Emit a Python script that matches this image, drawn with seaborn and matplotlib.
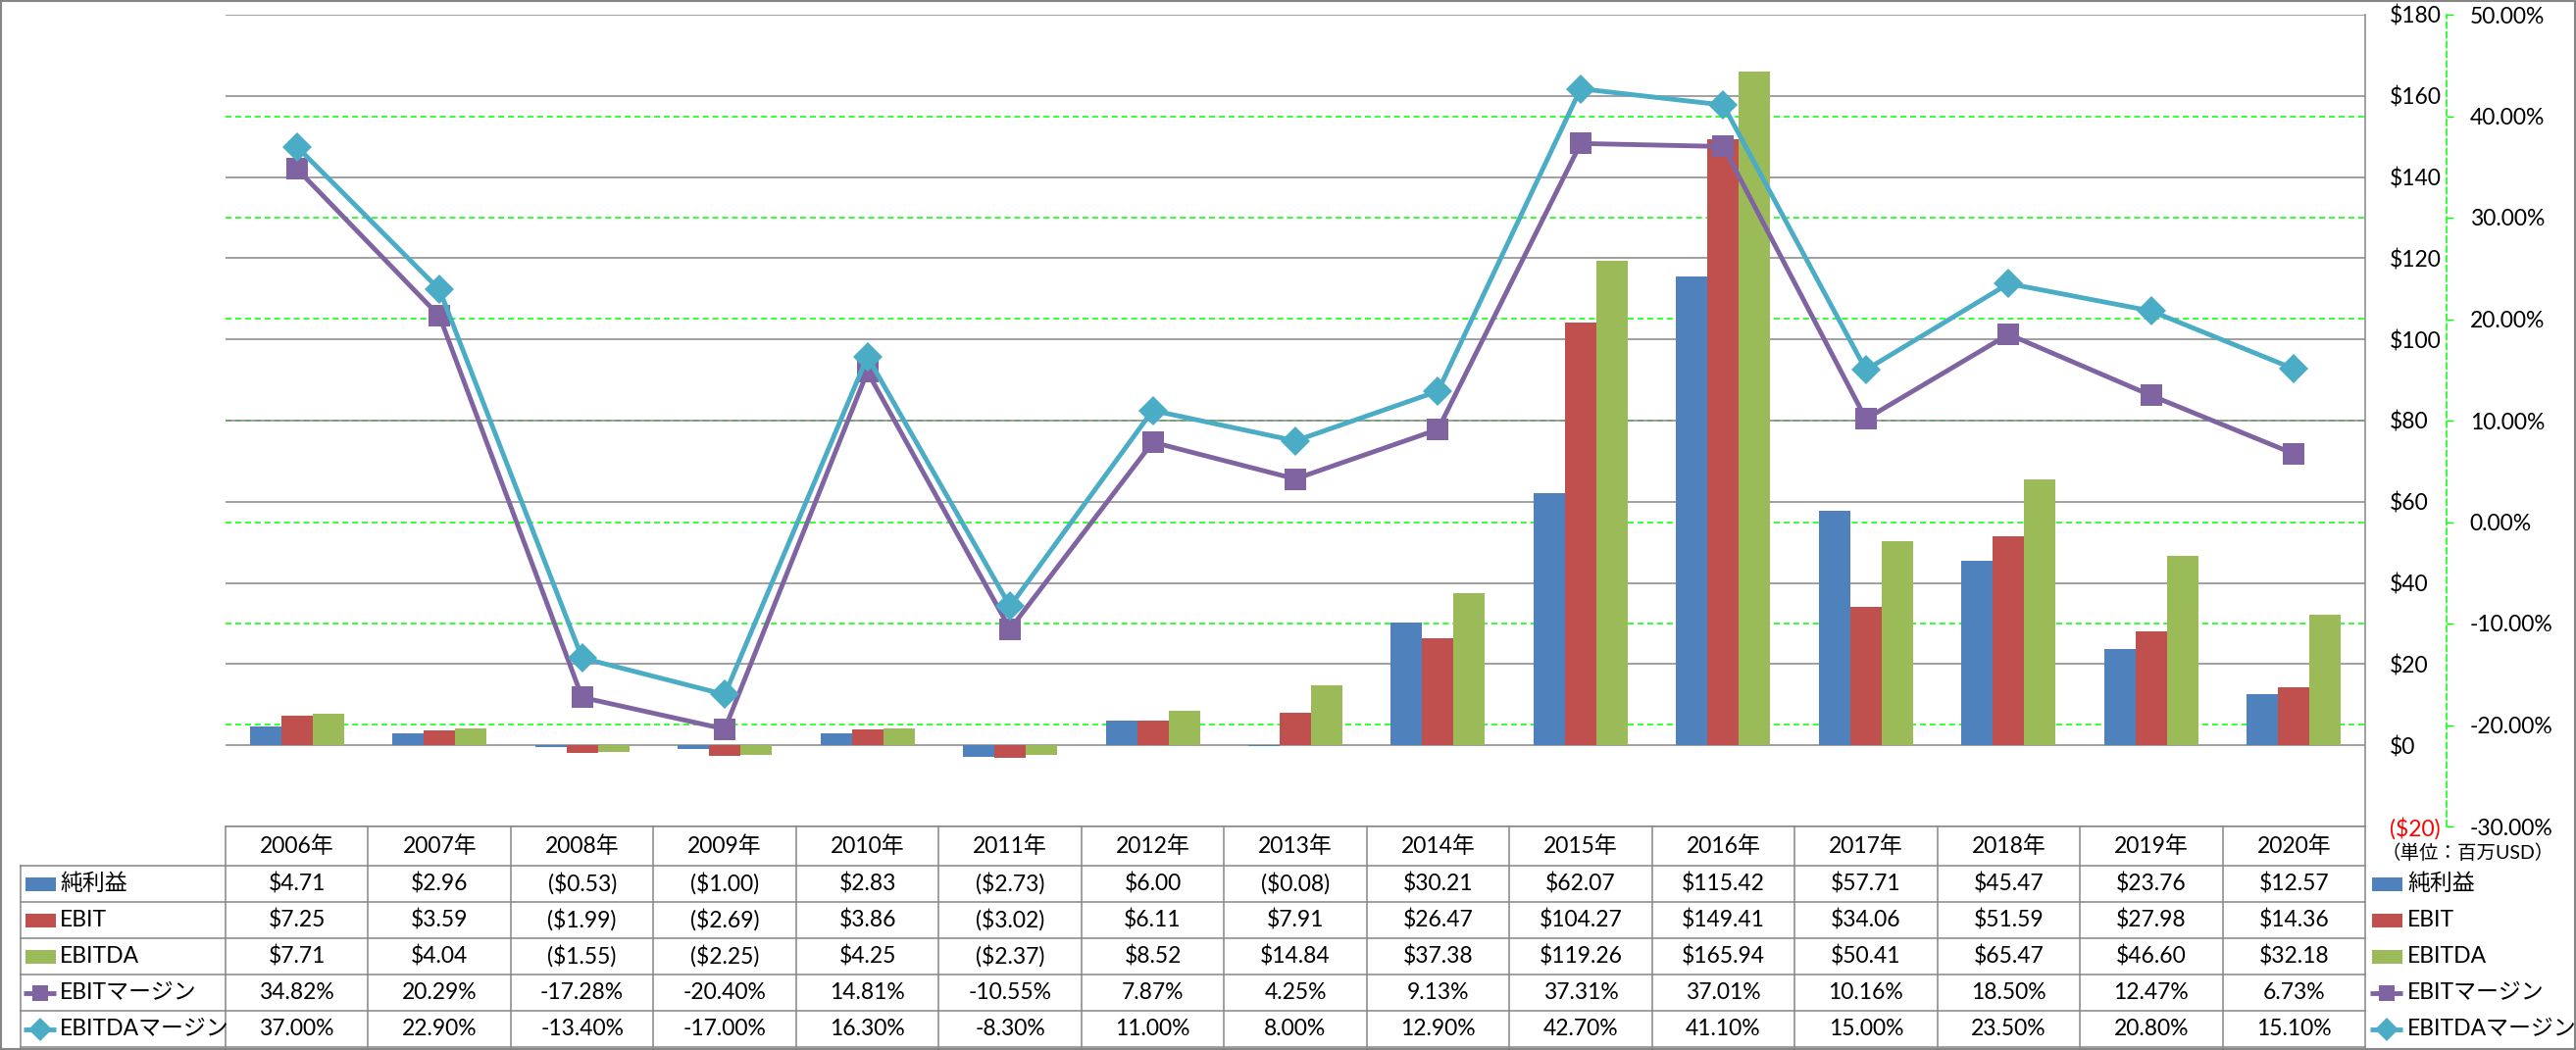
import numpy as np
import pandas as pd
import matplotlib
matplotlib.use("Agg")
import matplotlib.pyplot as plt
from matplotlib.patches import Rectangle
import seaborn as sns

plt.rcParams['font.family'] = ['Lato', 'Noto Sans CJK JP', 'DejaVu Sans']

years = ["2006年", "2007年", "2008年", "2009年", "2010年", "2011年", "2012年", "2013年",
         "2014年", "2015年", "2016年", "2017年", "2018年", "2019年", "2020年"]
net_income = [4.71, 2.96, -0.53, -1.00, 2.83, -2.73, 6.00, -0.08, 30.21, 62.07, 115.42, 57.71, 45.47, 23.76, 12.57]
ebit = [7.25, 3.59, -1.99, -2.69, 3.86, -3.02, 6.11, 7.91, 26.47, 104.27, 149.41, 34.06, 51.59, 27.98, 14.36]
ebitda = [7.71, 4.04, -1.55, -2.25, 4.25, -2.37, 8.52, 14.84, 37.38, 119.26, 165.94, 50.41, 65.47, 46.60, 32.18]
ebit_margin = [34.82, 20.29, -17.28, -20.40, 14.81, -10.55, 7.87, 4.25, 9.13, 37.31, 37.01, 10.16, 18.50, 12.47, 6.73]
ebitda_margin = [37.00, 22.90, -13.40, -17.00, 16.30, -8.30, 11.00, 8.00, 12.90, 42.70, 41.10, 15.00, 23.50, 20.80, 15.10]

bar_names = ["純利益", "EBIT", "EBITDA"]
line_names = ["EBITマージン", "EBITDAマージン"]
bar_colors = ["#4F81BD", "#C0504D", "#9BBB59"]
line_colors = ["#8064A2", "#4BACC6"]
line_markers = ["s", "D"]
usd_ticks = list(range(-20, 181, 20))
pct_ticks = list(range(-30, 51, 10))
unit_note = "（単位：百万USD）"

GRAY = "#868686"
GREEN = "#00FF00"
FS = 16.5
W, H = 2627, 1071

fig = plt.figure(figsize=(W / 100, H / 100), dpi=100)
ax = fig.add_axes([230 / W, 1 - 843 / H, (2412 - 230) / W, (843 - 15) / H])

df = pd.DataFrame({
    "year": years * 3,
    "value": net_income + ebit + ebitda,
    "series": [bar_names[0]] * 15 + [bar_names[1]] * 15 + [bar_names[2]] * 15,
})
sns.barplot(data=df, x="year", y="value", hue="series", hue_order=bar_names,
            palette=bar_colors, saturation=1, width=0.66, linewidth=0,
            legend=False, ax=ax)

ax.set_xlim(-0.5, len(years) - 0.5)
ax.set_ylim(usd_ticks[0], usd_ticks[-1])
ax.set_xticks([])
ax.set_xlabel("")
ax.set_ylabel("")
ax.set_axisbelow(True)
ax.grid(axis="y", color=GRAY, lw=1.1)
for s in ["left", "top", "bottom"]:
    ax.spines[s].set_visible(False)
ax.spines["right"].set_color(GRAY)
ax.spines["right"].set_linewidth(1.1)

# secondary-axis gridlines sit behind the bars, so draw them on the primary axes
u0, u1 = usd_ticks[0], usd_ticks[-1]
p0, p1 = pct_ticks[0], pct_ticks[-1]
for p in pct_ticks[1:-1]:
    ax.axhline(u0 + (p - p0) / (p1 - p0) * (u1 - u0), color=GREEN, lw=1.1,
               ls=(0, (4, 2.5)), zorder=0.5)

ax2 = ax.twinx()
xpos = np.arange(len(years))
for vals, name, col, mk in zip([ebit_margin, ebitda_margin], line_names, line_colors, line_markers):
    sns.lineplot(x=xpos, y=vals, ax=ax2, color=col, lw=3.5, marker=mk,
                 markersize=16 if mk == "s" else 15, markeredgewidth=0, sort=False)

# primary ($) ticks go on the right, next to the plot edge
ax.yaxis.tick_right()
ax.set_yticks(usd_ticks)
ax.set_yticklabels([f"(${-v})" if v < 0 else f"${v}" for v in usd_ticks])
for lab, v in zip(ax.get_yticklabels(), usd_ticks):
    lab.set_color("red" if v < 0 else "black")
ax.tick_params(axis="y", length=0, pad=18, labelsize=FS, left=False, labelleft=False,
               right=True, labelright=True)

ax2.set_xlim(-0.5, len(years) - 0.5)
ax2.set_ylim(p0, p1)
ax2.set_yticks(pct_ticks)
ax2.set_yticklabels([f"{v:.2f}%" for v in pct_ticks])
for lab, v in zip(ax2.get_yticklabels(), pct_ticks):
    lab.set_color("red" if v < 0 else "black")
ax2.tick_params(axis="y", length=5, width=1, color=GREEN, pad=12, labelsize=FS)
ax2.set_ylabel("")
for s in ["left", "top", "bottom"]:
    ax2.spines[s].set_visible(False)
ax2.spines["right"].set_position(("outward", 83 * 0.72))
ax2.spines["right"].set_color(GREEN)
ax2.spines["right"].set_linestyle((0, (4, 2.5)))
ax2.spines["right"].set_linewidth(1.1)

# data table underneath, in pixel coordinates
ov = fig.add_axes([0, 0, 1, 1])
ov.set_xlim(0, W)
ov.set_ylim(H, 0)
ov.axis("off")

cx = [ax.transData.transform((i, 0))[0] for i in range(len(years))]
half = (cx[1] - cx[0]) / 2
edges_x = [c - half for c in cx] + [cx[-1] + half]
rows_y = [843, 883, 920, 957, 994, 1031, 1068]
lab_left = 21

ov.plot([edges_x[0], edges_x[-1]], [rows_y[0]] * 2, color=GRAY, lw=1.1)
for y in rows_y[1:]:
    ov.plot([lab_left, edges_x[-1]], [y, y], color=GRAY, lw=1.1)
ov.plot([lab_left, lab_left], [rows_y[1], rows_y[-1]], color=GRAY, lw=1.1)
for x in edges_x:
    ov.plot([x, x], [rows_y[0], rows_y[-1]], color=GRAY, lw=1.1)


def usd(v):
    return f"(${-v:.2f})" if v < 0 else f"${v:.2f}"


cells = [[usd(v) for v in net_income], [usd(v) for v in ebit], [usd(v) for v in ebitda],
         [f"{v:.2f}%" for v in ebit_margin], [f"{v:.2f}%" for v in ebitda_margin]]
hy = (rows_y[0] + rows_y[1]) / 2
for x, yr in zip(cx, years):
    ov.text(x, hy, yr, ha="center", va="center", fontsize=FS)
for r, row in enumerate(cells):
    ym = (rows_y[r + 1] + rows_y[r + 2]) / 2
    for x, t in zip(cx, row):
        ov.text(x, ym, t, ha="center", va="center", fontsize=FS)


def legend_key(x0, ym, r):
    if r < 3:
        ov.add_patch(Rectangle((x0, ym - 7), 31, 14, color=bar_colors[r], lw=0))
    else:
        col = line_colors[r - 3]
        ov.plot([x0 - 2, x0 + 31], [ym, ym], color=col, lw=3.5, solid_capstyle="butt")
        ov.plot([x0 + 14.5], [ym], color=col, marker=line_markers[r - 3],
                markersize=12, markeredgewidth=0)


names = bar_names + line_names
for r, name in enumerate(names):
    ym = (rows_y[r + 1] + rows_y[r + 2]) / 2
    legend_key(lab_left + 5, ym, r)
    ov.text(lab_left + 40, ym, name, ha="left", va="center", fontsize=FS)
    legend_key(2419, ym, r)
    ov.text(2455, ym, name, ha="left", va="center", fontsize=FS)

ov.text(2428, 870, unit_note, ha="left", va="center", fontsize=14)
ov.add_patch(Rectangle((1, 1), W - 2, H - 2, fill=False, edgecolor=GRAY, lw=1.5))

fig.savefig("out.png", dpi=100)
